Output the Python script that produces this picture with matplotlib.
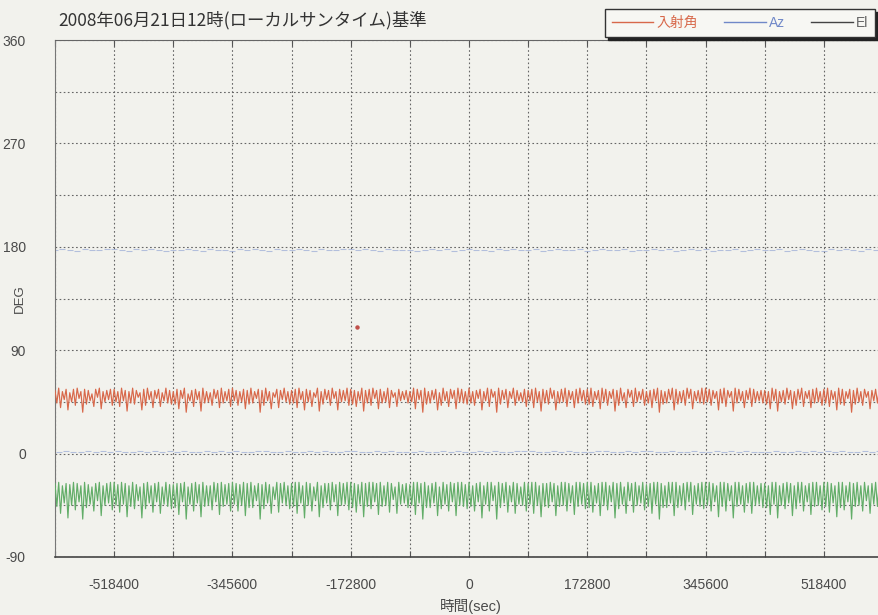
import numpy as np
import matplotlib
matplotlib.use("Agg")
import matplotlib.pyplot as plt
from matplotlib.lines import Line2D
from matplotlib.ticker import MultipleLocator, FixedLocator

# ---------------- data ----------------
title_text = "2008年06月21日12時(ローカルサンタイム)基準"
x_label = "時間(sec)"
y_label = "DEG"
series_names = ["入射角", "Az", "El"]
x_ticks = [-518400, -345600, -172800, 0, 172800, 345600, 518400]
y_ticks = [-90, 0, 90, 180, 270, 360]
t_start, t_stop, t_step = -604800, 604800, 2700   # sample grid of the record (s)
az_step = 5400

incidence = [
    55,44,57,40,54,47,56,38,53,45,56,42,57,48,54,36,56,43,55,46,52,41,56,49,57,39,54,45,55,47,56,42,
    56,45,54,41,57,46,55,37,54,44,57,43,55,49,53,38,56,42,57,47,54,40,55,48,56,41,53,46,57,44,55,43,
    54,43,56,39,55,48,57,36,52,46,55,41,56,47,54,37,57,44,54,45,53,42,56,48,55,40,57,44,54,46,56,41,
    57,46,55,42,54,45,56,39,55,43,57,44,54,48,56,36,55,42,57,46,54,39,53,49,56,40,55,47,57,45,54,43,
    55,44,56,40,57,47,54,38,56,45,55,41,53,49,57,37,54,43,56,47,55,42,57,48,54,38,56,45,55,46,57,42,
    56,43,55,41,54,46,57,37,55,44,56,42,57,48,55,39,56,44,54,45,57,40,55,49,53,41,56,46,54,47,55,44,
    54,45,57,39,56,47,55,36,57,43,54,44,55,47,56,38,53,42,57,46,54,41,56,48,55,39,57,45,56,44,54,43,
    57,44,54,42,55,48,56,38,54,46,57,41,56,49,54,36,57,43,55,47,56,40,54,48,57,42,55,46,53,45,56,41,
    55,46,56,40,57,45,54,37,56,44,55,43,57,48,55,38,54,44,56,45,57,41,55,47,54,40,56,44,57,46,55,43,
    56,43,57,41,54,47,55,39,57,45,56,42,54,48,56,37,55,42,57,46,53,40,56,49,55,41,57,45,54,47,56,42,
    54,44,55,40,56,46,57,36,55,43,54,44,56,47,57,38,56,43,54,45,55,42,57,48,56,39,54,46,55,44,57,43,
    57,45,56,42,55,48,54,38,56,44,57,41,55,49,54,37,57,44,56,46,54,40,55,47,57,41,56,45,54,46,55,44,
    55,43,54,39,57,46,56,37,54,45,55,43,57,47,55,39,54,42,56,47,57,41,54,48,55,40,56,44,57,45,54,42,
    56,44,57,41,55,47,54,38,57,43,56,42,54,48,56,36,55,43,57,45,54,42,56,49,54,39,55,46,56,44,57,43,
]

elevation = [
    -26,-46,-25,-52,-28,-43,-26,-56,-27,-45,-25,-49,-26,-42,-28,-57,-25,-47,-27,-44,-29,-50,-26,-41,-25,-54,-28,-45,-26,-43,-25,-49,
    -25,-45,-27,-51,-25,-44,-26,-55,-28,-46,-25,-48,-27,-41,-29,-56,-26,-48,-25,-43,-28,-51,-26,-42,-25,-52,-29,-44,-25,-46,-27,-48,
    -27,-47,-26,-53,-26,-42,-25,-57,-29,-44,-26,-50,-25,-43,-27,-55,-25,-46,-28,-45,-28,-49,-25,-42,-26,-53,-25,-46,-27,-44,-26,-50,
    -25,-44,-26,-50,-27,-45,-25,-54,-26,-47,-25,-47,-28,-41,-26,-57,-27,-48,-25,-43,-27,-52,-29,-40,-25,-51,-26,-43,-25,-45,-28,-48,
    -26,-46,-25,-52,-25,-43,-28,-56,-25,-45,-26,-50,-29,-41,-25,-55,-28,-47,-26,-43,-26,-49,-25,-42,-27,-54,-25,-45,-26,-44,-25,-49,
    -25,-47,-26,-51,-27,-44,-25,-55,-26,-46,-25,-48,-25,-42,-26,-53,-25,-46,-28,-45,-25,-51,-26,-40,-29,-52,-25,-44,-27,-43,-26,-47,
    -27,-45,-25,-53,-25,-43,-26,-57,-25,-47,-28,-47,-26,-43,-25,-54,-29,-48,-25,-44,-27,-50,-25,-42,-26,-54,-25,-45,-25,-46,-27,-48,
    -25,-46,-28,-50,-26,-42,-25,-56,-28,-44,-25,-50,-25,-41,-28,-57,-25,-47,-26,-43,-25,-51,-28,-42,-25,-52,-26,-44,-29,-45,-25,-50,
    -26,-44,-25,-52,-25,-45,-28,-55,-26,-46,-26,-47,-25,-42,-26,-54,-28,-46,-25,-45,-25,-50,-26,-43,-28,-53,-25,-46,-25,-44,-26,-48,
    -25,-47,-25,-51,-28,-43,-26,-54,-25,-45,-25,-49,-28,-42,-25,-56,-26,-48,-25,-44,-29,-52,-25,-41,-26,-51,-25,-45,-28,-43,-25,-49,
    -27,-46,-26,-52,-25,-44,-25,-57,-26,-47,-28,-47,-25,-43,-25,-54,-25,-47,-28,-45,-26,-49,-25,-42,-25,-53,-28,-44,-26,-46,-25,-48,
    -25,-45,-25,-50,-26,-42,-28,-55,-25,-46,-25,-50,-26,-41,-28,-56,-25,-46,-25,-44,-28,-51,-26,-43,-25,-52,-25,-45,-28,-44,-26,-47,
    -26,-47,-28,-53,-25,-44,-25,-56,-28,-45,-26,-48,-25,-43,-26,-54,-28,-48,-25,-43,-25,-50,-28,-42,-26,-53,-25,-46,-25,-45,-28,-49,
    -25,-46,-25,-51,-26,-43,-28,-55,-25,-47,-25,-49,-28,-42,-25,-57,-26,-46,-25,-45,-28,-50,-25,-41,-28,-52,-26,-44,-25,-46,-25,-48,
]

azimuth = [
    177,1,178,2,177,1,176,1,178,2,177,1,177,2,178,1,
    178,2,177,1,176,1,178,2,177,1,178,2,177,1,176,2,
    177,1,177,2,178,1,177,1,176,2,178,1,177,2,177,1,
    176,2,178,1,177,1,178,2,177,2,176,1,178,1,177,2,
    177,1,178,1,177,2,176,1,178,2,177,1,177,1,178,2,
    178,2,177,1,178,1,177,2,176,1,178,2,177,1,177,1,
    177,1,176,2,177,1,178,1,177,2,178,1,176,2,177,1,
    178,1,177,2,177,1,176,2,178,1,177,1,178,2,177,2,
    177,2,178,1,176,1,177,2,178,1,177,2,177,1,178,1,
    176,1,177,2,178,2,177,1,177,1,178,2,176,1,177,2,
    177,2,178,1,177,1,178,2,176,1,177,1,178,2,177,1,
    178,1,176,2,177,1,177,2,178,1,176,2,177,1,178,1,
    177,1,177,2,178,1,176,1,177,2,178,1,177,2,176,1,
    176,2,178,1,177,2,178,1,177,1,176,2,178,1,177,2,
]

stray_t = [-163800]
stray_v = [110]

# ---------------- styles ----------------
num_font = "Liberation Sans"
cjk = "Noto Sans CJK JP"
plt.rcParams["font.family"] = [num_font, cjk, "DejaVu Sans"]
plt.rcParams["axes.unicode_minus"] = False
plt.rcParams["path.simplify"] = False

bg = "#f2f2ed"
red = "#d8684a"
green = "#62ad68"
blue = "#8a9ed2"
grid_c = "#666666"

W, H = 879, 615
fig = plt.figure(figsize=(W / 100, H / 100), dpi=100, facecolor=bg)
ax_l, ax_r, ax_t, ax_b = 55, 883, 40, 557
ax = fig.add_axes([ax_l / W, 1 - ax_b / H, (ax_r - ax_l) / W, (ax_b - ax_t) / H])
ax.set_facecolor(bg)

t = np.arange(t_start, t_stop, t_step)
t_az = np.arange(t_start, t_stop, az_step)

ax.plot(t, incidence, color=red, lw=0.85, zorder=3)
ax.plot(t, elevation, color=green, lw=0.85, zorder=3)
ax.plot(t_az, azimuth, linestyle="None", marker="_", markersize=4,
        markeredgewidth=0.8, color=blue, alpha=0.6, zorder=2)
ax.plot(stray_t, stray_v, linestyle="None", marker="o", markersize=2.2,
        color="#c0504a", zorder=3)

ax.set_xlim(t_start, t_stop)
ax.set_ylim(y_ticks[0], y_ticks[-1])
ax.xaxis.set_major_locator(FixedLocator(x_ticks))
ax.xaxis.set_minor_locator(MultipleLocator(86400))
ax.yaxis.set_major_locator(FixedLocator(y_ticks))
ax.yaxis.set_minor_locator(MultipleLocator(45))
ax.grid(True, which="both", color=grid_c, lw=0.8, linestyle=(0, (1.5, 2.2)), zorder=1)
ax.set_axisbelow(True)

ax.tick_params(axis="x", which="both", direction="in", top=True, bottom=True,
               length=4, width=0.8, color="#555", labelsize=10,
               labelcolor="#4a4a4a", pad=15)
ax.tick_params(axis="y", which="both", left=False, length=0,
               labelsize=10, labelcolor="#4a4a4a", pad=21)

ax.spines["right"].set_visible(False)
ax.spines["left"].set_color("#777")
ax.spines["top"].set_color("#666")
ax.spines["bottom"].set_color("#444")
ax.spines["bottom"].set_linewidth(1.2)

ax.set_xlabel(x_label, fontsize=10.5, color="#4a4a4a")
ax.xaxis.set_label_coords((471 - ax_l) / (ax_r - ax_l), -(606 - ax_b) / (ax_b - ax_t))
ax.xaxis.label.set_va("center")
ax.set_ylabel(y_label, fontsize=9.5, color="#4a4a4a")
ax.yaxis.set_label_coords(-(ax_l - 20) / (ax_r - ax_l), 0.5)
ax.yaxis.label.set_va("center")

fig.text(58 / W, 1 - 20 / H, title_text, family=[cjk, "DejaVu Sans"],
         fontsize=12.5, color="#333", va="center", ha="left")

handles = [Line2D([], [], color=red, lw=1),
           Line2D([], [], color="#7088c8", lw=1),
           Line2D([], [], color="#444", lw=1)]
leg = fig.legend(handles, series_names, loc="upper right",
                 bbox_to_anchor=(875 / W, 1 - 9 / H), borderaxespad=0,
                 ncol=3, frameon=True,
                 fancybox=False, shadow={"color": "#222", "alpha": 1},
                 edgecolor="#333", facecolor="#f7f7f3",
                 handlelength=3.0, handletextpad=0.2, columnspacing=1.9,
                 borderpad=0.5, prop={"family": [num_font, cjk], "size": 10})
leg.get_frame().set_linewidth(1.0)
for txt, c in zip(leg.get_texts(), [red, "#7088c8", "#666"]):
    txt.set_color(c)

fig.savefig("out.png", dpi=100, facecolor=bg)
